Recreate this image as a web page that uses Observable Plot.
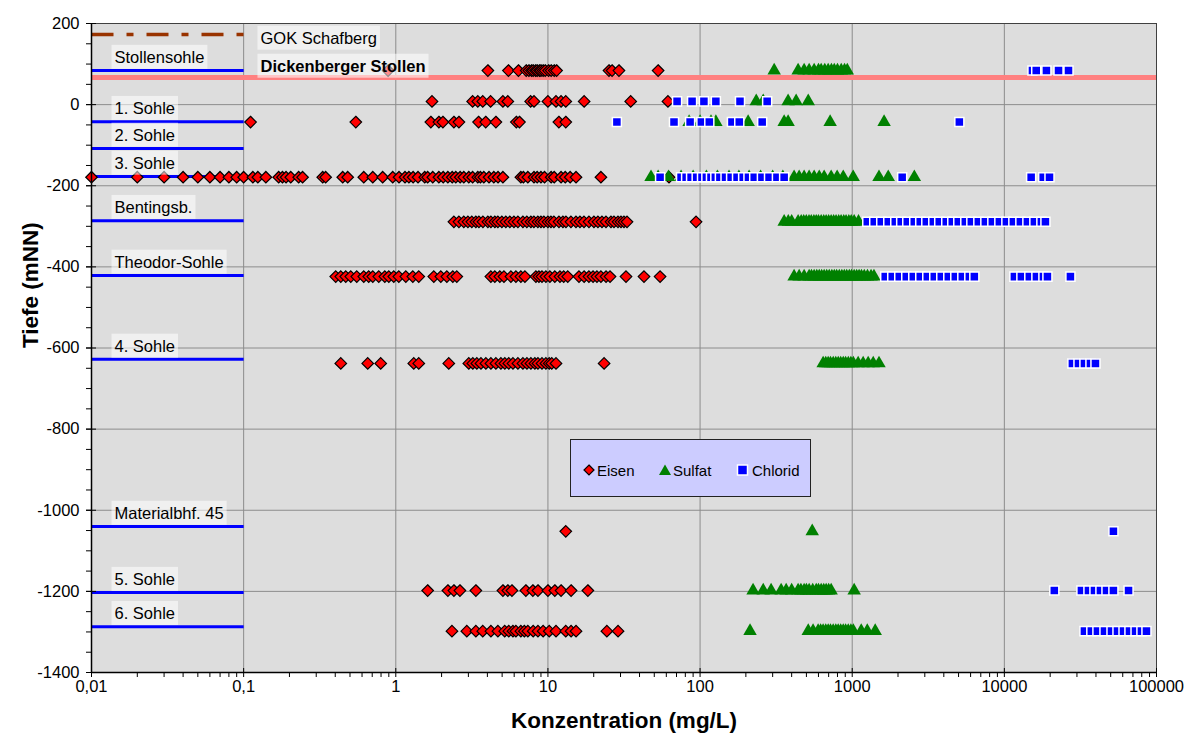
<!DOCTYPE html>
<html><head><meta charset="utf-8">
<script src="https://cdn.jsdelivr.net/npm/d3@7"></script>
<script src="https://cdn.jsdelivr.net/npm/@observablehq/plot@0.6"></script>
<style>
body{margin:0;background:#fff;font-family:'Liberation Sans',Arial,sans-serif;}
#wrap{position:relative;width:1188px;height:736px;}
#legend{position:absolute;left:570px;top:439px;width:241px;height:58px;box-sizing:border-box;background:#CCCCFF;border:1px solid #222;}
#legend svg{position:absolute;left:0;top:0;}
</style></head><body><div id="wrap"></div>
<script>
// ---- level lines (Sohlen) ----
const levelNames = ["Stollensohle","1. Sohle","2. Sohle","3. Sohle","Bentingsb.","Theodor-Sohle","4. Sohle","Materialbhf. 45","5. Sohle","6. Sohle"];
const levelDepths = [84, -42, -108, -177, -286, -421, -628, -1040, -1203, -1287];
const levelFrom = 0.01, levelTo = 0.1;
const gokName = "GOK Schafberg", gokDepth = 173;
const stollenName = "Dickenberger Stollen", stollenDepth = 67;

// ---- sample rows (depth of each measured row) ----
const sampleDepths = [84, 8, -43, -179, -289, -424, -638, -1052, -1198, -1298];

const eisenValues = [
  [0.89, 4.03, 5.5, 6.4, 7.2, 7.5, 7.8, 8.0, 8.3, 8.5, 8.8, 9.0, 9.3, 9.6, 10.1, 10.5, 11, 11.4, 25.2, 26.4, 29.3, 53],
  [1.73, 3.2, 3.46, 3.73, 4.2, 5.06, 5.45, 7.7, 8.1, 10, 11.3, 12.2, 13.1, 17.3, 35, 61.5],
  [0.111, 0.546, 1.70, 1.92, 2.04, 2.41, 2.6, 3.5, 3.9, 4.55, 6.2, 6.5, 11.8, 13.1],
  [0.01, 0.02, 0.03, 0.04, 0.05, 0.06, 0.07, 0.08, 0.09, 0.1, 0.115, 0.124, 0.14, 0.17, 0.18, 0.19, 0.204, 0.23, 0.244, 0.331, 0.346, 0.448, 0.483, 0.616, 0.706, 0.82, 0.955, 1.05, 1.15, 1.22, 1.3, 1.4, 1.55, 1.62, 1.75, 1.92, 2.05, 2.2, 2.35, 2.48, 2.65, 2.8, 3.02, 3.2, 3.46, 3.6, 3.79, 4.1, 4.41, 4.7, 5.06, 6.64, 6.9, 7.38, 8.1, 8.5, 9.0, 9.5, 10.5, 11, 12.2, 13, 14, 15.3, 22.3, 62.5],
  [2.41, 2.6, 2.8, 2.98, 3.16, 3.36, 3.52, 3.74, 4.03, 4.22, 4.48, 4.69, 4.98, 5.29, 5.62, 5.98, 6.35, 6.85, 7.27, 7.73, 8.09, 8.59, 9.0, 9.41, 10, 10.47, 10.95, 11.82, 12.55, 13.14, 14.17, 15.29, 16.24, 17.26, 18.61, 20.07, 21.32, 22.66, 24.08, 25.97, 27.18, 28.88, 30.22, 31.62, 33.1, 94.1],
  [0.403, 0.435, 0.469, 0.506, 0.554, 0.616, 0.664, 0.706, 0.773, 0.847, 0.9, 0.97, 1.047, 1.164, 1.294, 1.416, 1.778, 1.977, 2.166, 2.371, 2.518, 4.217, 4.477, 4.83, 5.14, 5.71, 6.16, 6.64, 7.06, 8.34, 8.73, 9.14, 9.7, 10.3, 11.1, 12.0, 12.7, 13.5, 16.0, 17.3, 18.6, 19.8, 21.0, 22.3, 24.1, 25.6, 32.6, 42.8, 54.6],
  [0.435, 0.654, 0.796, 1.313, 1.416, 2.23, 3.02, 3.21, 3.41, 3.63, 3.91, 4.22, 4.55, 4.91, 5.21, 5.53, 5.89, 6.35, 6.85, 7.28, 7.73, 8.21, 8.6, 9.14, 9.7, 10.2, 10.6, 11.3, 23.4],
  [13.1],
  [1.62, 2.2, 2.41, 2.64, 3.36, 5.06, 5.45, 5.8, 7.16, 7.96, 8.6, 10, 11.1, 12.2, 14.2, 18.3],
  [2.34, 2.93, 3.36, 3.73, 4.22, 4.69, 5.2, 5.53, 5.89, 6.16, 6.64, 7.0, 7.38, 8.0, 8.6, 9.3, 10.2, 11.3, 13.1, 14.2, 15.3, 24.4, 28.9]
];

const sulfatValues = [
  [307, 441, 483, 521, 562, 600, 625, 660, 695, 730, 762, 800, 847, 890, 928],
  [234, 260, 379, 428, 514],
  [84.7, 100, 118, 127, 207, 357, 379, 716, 1620],
  [47.6, 53, 62, 75, 90, 110, 130, 155, 180, 210, 250, 300, 350, 415, 448, 483, 521, 562, 607, 654, 727, 796, 873, 1015, 1500, 1725, 2560],
  [357, 380, 400, 441, 462, 480, 499, 520, 538, 560, 580, 600, 625, 650, 674, 700, 727, 755, 783, 815, 845, 880, 911, 950, 985, 1030, 1100],
  [415, 448, 483, 521, 540, 562, 585, 607, 630, 654, 680, 706, 735, 762, 790, 822, 855, 887, 920, 957, 990, 1030, 1070, 1110, 1150, 1200, 1260, 1330, 1390],
  [644, 670, 695, 720, 750, 780, 809, 840, 873, 905, 942, 980, 1017, 1094, 1180, 1273, 1374, 1500],
  [546],
  [223, 260, 293, 341, 368, 400, 441, 460, 483, 500, 521, 550, 580, 600, 625, 650, 674, 700, 727, 1030],
  [213, 514, 553, 597, 620, 644, 670, 695, 720, 750, 780, 809, 840, 873, 905, 942, 980, 1017, 1146, 1256, 1416]
];

const chloridValues = [
  [15300, 16200, 18900, 22700, 26400],
  [70.6, 88.6, 106, 127, 183, 276],
  [28.4, 67.4, 86, 102, 115, 162, 181, 256, 5060],
  [54.6, 75, 81, 87.3, 95, 103, 110, 118, 126, 135, 147, 160, 175, 192, 208, 227, 255, 284, 320, 357, 2130, 15000, 18000, 19800],
  [1256, 1396, 1552, 1726, 1919, 2099, 2301, 2558, 2800, 3069, 3412, 3733, 4151, 4547, 4980, 5538, 6067, 6745, 7500, 8337, 9270, 10310, 11460, 12740, 14170, 15750, 17510, 18620],
  [1648, 1833, 2038, 2266, 2520, 2801, 3115, 3463, 3850, 4281, 4760, 5293, 5885, 6350, 11640, 12940, 14590, 16240, 18060, 19190, 27180],
  [28000, 30700, 33600, 36800, 39700],
  [52100],
  [21300, 32100, 35700, 39100, 42800, 46900, 52100, 65500],
  [33600, 37300, 40900, 45500, 50600, 55400, 60700, 66400, 72800, 79600, 85900]
];

// ---- axis ticks ----
const xMajor = [0.01, 0.1, 1, 10, 100, 1000, 10000, 100000];
const xMinorMult = [2, 3, 4, 5, 6, 7, 8, 9];
const yMajor = [200, 0, -200, -400, -600, -800, -1000, -1200, -1400];
const yMinorStep = 50;

const xMinor = xMajor.slice(0, -1).flatMap(d => xMinorMult.map(m => d * m));
const yMinor = d3.range(-1400, 201, yMinorStep);
const xGrid = xMajor.slice(1, -1);
const yGrid = yMajor.slice(1, -1);

const rowsOf = vals => vals.flatMap((arr, i) => arr.map(v => ({conc: v, depth: sampleDepths[i]})));
const eisenRows = rowsOf(eisenValues);
const sulfatRows = rowsOf(sulfatValues);
const chloridRows = rowsOf(chloridValues);
const levelTable = levelNames.map((name, i) => ({name, depth: levelDepths[i]}));

const labelX = 0.01416, topLabelX = 0.129;
const font = "'Liberation Sans', Arial, sans-serif";

const svg = Plot.plot({
  width: 1188, height: 736,
  marginLeft: 91, marginRight: 32, marginTop: 23, marginBottom: 64,
  style: {fontFamily: font, background: "#FFFFFF", color: "#000"},
  x: {type: "log", domain: [0.01, 100000], label: null},
  y: {domain: [-1400, 200], label: null},
  marks: [
    Plot.frame({fill: "#DDDDDD"}),
    Plot.gridX(xGrid, {stroke: "#8C8C8C", strokeOpacity: 1}),
    Plot.gridY(yGrid, {stroke: "#8C8C8C", strokeOpacity: 1}),
    Plot.ruleY([stollenDepth], {stroke: "#FF8080", strokeWidth: 5}),
    Plot.link(levelTable, {x1: () => levelFrom, x2: () => levelTo, y1: "depth", y2: "depth", stroke: "#0000FF", strokeWidth: 3}),
    Plot.link([gokDepth], {x1: () => levelFrom, x2: () => levelTo, y1: d => d, y2: d => d, stroke: "#993300", strokeWidth: 3.5, strokeDasharray: "22,13,7,13"}),
    Plot.dot(eisenRows, {x: "conc", y: "depth", symbol: "diamond2", r: 5.2, fill: "#FF0000", stroke: "#000000", strokeWidth: 1.2}),
    Plot.dot(sulfatRows, {x: "conc", y: "depth", symbol: "triangle", r: 5, fill: "#008000"}),
    Plot.dot(chloridRows, {x: "conc", y: "depth", symbol: "square", r: 5.1, fill: "#0000FF", stroke: "#FFFFFF", strokeWidth: 1.5}),
    Plot.text(levelTable, {x: () => labelX, y: "depth", text: "name", textAnchor: "start", dy: -13, fontSize: 16.5, fill: "#000"}),
    Plot.text([gokDepth], {x: () => topLabelX, y: d => d, text: () => gokName, textAnchor: "start", dy: 4, fontSize: 16.5, fill: "#000"}),
    Plot.text([stollenDepth], {x: () => topLabelX, y: d => d, text: () => stollenName, textAnchor: "start", dy: -11, fontSize: 16.5, fontWeight: "bold", fill: "#000"}),
    Plot.frame({stroke: "#404040"}),
    Plot.ruleX([0.01], {stroke: "#000", strokeWidth: 1.5}),
    Plot.ruleY([-1400], {stroke: "#000", strokeWidth: 1.5}),
    Plot.axisY(yMinor, {tickSize: 5, tickFormat: () => "", label: null}),
    Plot.axisY(yMajor, {tickSize: 10, dx: 5, tickFormat: () => "", label: null}),
    Plot.axisY(yMajor, {tickSize: 0, tickPadding: 12, tickFormat: d => String(d), fontSize: 16.5, label: null}),
    Plot.axisX(xMinor, {tickSize: 5, tickFormat: () => "", label: null}),
    Plot.axisX(xMajor, {tickSize: 9, dy: -4, tickFormat: () => "", label: null}),
    Plot.axisX(xMajor, {tickSize: 0, tickPadding: 8, tickFormat: d => String(d).replace(".", ","), fontSize: 16.5, label: null}),
    Plot.text(["Tiefe (mNN)"], {frameAnchor: "left", text: d => d, dx: -61, rotate: -90, fontSize: 22.5, fontWeight: "bold"}),
    Plot.text(["Konzentration (mg/L)"], {frameAnchor: "bottom", text: d => d, dy: 55, fontSize: 22.5, fontWeight: "bold"})
  ]
});

const wrap = document.getElementById("wrap");
wrap.appendChild(svg);

// semi-transparent boxes behind level labels
const boxed = new Set([...levelNames, gokName, stollenName]);
const NS = "http://www.w3.org/2000/svg";
svg.querySelectorAll("text").forEach(t => {
  if (!boxed.has(t.textContent)) return;
  const b = t.getBBox();
  const r = document.createElementNS(NS, "rect");
  r.setAttribute("x", b.x - 3);
  r.setAttribute("y", b.y - 3);
  r.setAttribute("width", b.width + 6);
  r.setAttribute("height", b.height + 6);
  r.setAttribute("fill", "#FFFFFF");
  r.setAttribute("fill-opacity", "0.55");
  r.setAttribute("stroke", "none");
  const tr = t.getAttribute("transform");
  if (tr) r.setAttribute("transform", tr);
  t.parentNode.insertBefore(r, t);
});

// legend
const legendItems = ["Eisen", "Sulfat", "Chlorid"];
const lg = document.createElement("div");
lg.id = "legend";
lg.innerHTML = `<svg width="239" height="56" font-family="${font}" font-size="15">
  <path transform="translate(18,30)" d="M0,-5L5,0L0,5L-5,0Z" fill="#FF0000" stroke="#000" stroke-width="1.2"/>
  <text x="26" y="35.5">${legendItems[0]}</text>
  <path transform="translate(94,31)" d="M0,-6.5L6,4L-6,4Z" fill="#008000"/>
  <text x="102" y="35.5">${legendItems[1]}</text>
  <rect x="166.5" y="25" width="10" height="10" fill="#0000FF" stroke="#FFFFFF" stroke-width="1.5"/>
  <text x="181" y="35.5">${legendItems[2]}</text>
</svg>`;
wrap.appendChild(lg);
</script></body></html>
